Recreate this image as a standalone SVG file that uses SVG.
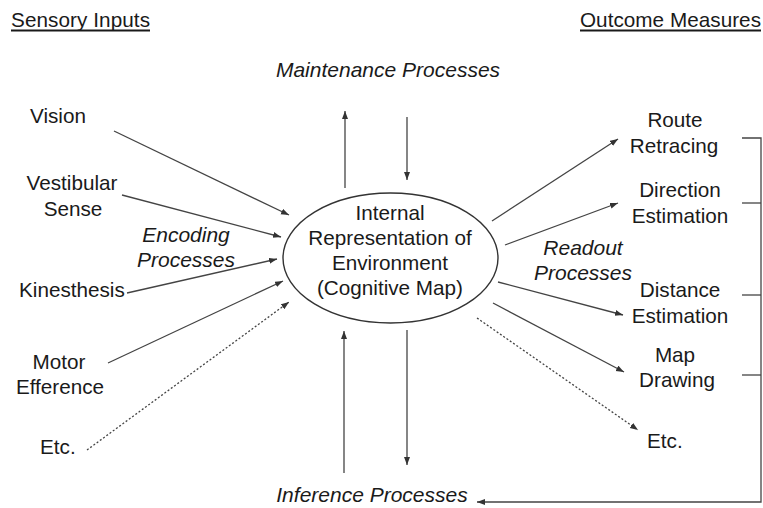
<svg xmlns="http://www.w3.org/2000/svg" width="763" height="508" viewBox="0 0 763 508">
<defs>
<marker id="ah" markerWidth="9" markerHeight="7" refX="8" refY="3" orient="auto" markerUnits="userSpaceOnUse">
<path d="M0,0 L8,3 L0,6 z" fill="#333"/>
</marker>
<style>
text{font-family:"Liberation Sans",Arial,sans-serif;font-size:20.7px;fill:#1a1a1a}
.c{text-anchor:middle}
.i{font-style:italic;font-size:21px}
.ln{stroke:#444;stroke-width:1.3;fill:none}
.ar{marker-end:url(#ah)}
.d{stroke-dasharray:2,2}
.ul{stroke:#1a1a1a;stroke-width:2}
</style>
</defs>
<rect width="763" height="508" fill="#fff"/>
<g id="titles">
<text x="11" y="27" textLength="139">Sensory Inputs</text>
<line class="ul" x1="11" y1="30.5" x2="150" y2="30.5"/>
<text x="580" y="27" textLength="181">Outcome Measures</text>
<line class="ul" x1="580" y1="30.5" x2="761" y2="30.5"/>
</g>
<g id="center">
<ellipse cx="390.5" cy="258" rx="107.5" ry="65" fill="none" stroke="#333" stroke-width="1.4"/>
<text class="c" x="390" y="220">Internal</text>
<text class="c" x="390" y="245">Representation of</text>
<text class="c" x="390" y="270">Environment</text>
<text class="c" x="390" y="295">(Cognitive Map)</text>
</g>
<g id="maintenance"><text class="c i" x="388" y="77">Maintenance Processes</text></g>
<g id="inference"><text class="c i" x="372" y="502">Inference Processes</text></g>
<g id="encoding"><text class="c i" x="186" y="242">Encoding</text><text class="c i" x="186" y="267">Processes</text></g>
<g id="readout"><text class="c i" x="583" y="255">Readout</text><text class="c i" x="583" y="280">Processes</text></g>
<g id="vision"><text x="30" y="123">Vision</text></g>
<g id="vestibular"><text class="c" x="72" y="190">Vestibular</text><text class="c" x="73" y="216">Sense</text></g>
<g id="kinesthesis"><text x="19" y="297">Kinesthesis</text></g>
<g id="motor"><text class="c" x="59" y="369">Motor</text><text class="c" x="60" y="394">Efference</text></g>
<g id="etc-left"><text x="40" y="454">Etc.</text></g>
<g id="route"><text class="c" x="675" y="127">Route</text><text class="c" x="674" y="153">Retracing</text></g>
<g id="direction"><text class="c" x="680" y="197">Direction</text><text class="c" x="680" y="223">Estimation</text></g>
<g id="distance"><text class="c" x="680" y="297">Distance</text><text class="c" x="680" y="323">Estimation</text></g>
<g id="map"><text class="c" x="675" y="362">Map</text><text class="c" x="677" y="387">Drawing</text></g>
<g id="etc-right"><text x="647" y="448">Etc.</text></g>
<g id="connectors">
<line class="ln ar" x1="114" y1="131" x2="289" y2="215"/>
<line class="ln ar" x1="122" y1="195" x2="281" y2="237"/>
<line class="ln ar" x1="127" y1="293" x2="277" y2="259"/>
<line class="ln ar" x1="108" y1="363" x2="283" y2="281"/>
<line class="ln ar d" x1="87" y1="450" x2="289" y2="302"/>
<line class="ln ar" x1="345" y1="188" x2="345" y2="111"/>
<line class="ln ar" x1="407" y1="117" x2="407" y2="180"/>
<line class="ln ar" x1="344" y1="473" x2="344" y2="331"/>
<line class="ln ar" x1="407" y1="330" x2="407" y2="465"/>
<line class="ln ar" x1="492" y1="221" x2="618" y2="139"/>
<line class="ln ar" x1="505" y1="245" x2="618" y2="203"/>
<line class="ln ar" x1="498" y1="282" x2="623" y2="315"/>
<line class="ln ar" x1="493" y1="303" x2="624" y2="372"/>
<line class="ln ar d" x1="477" y1="318" x2="638" y2="430"/>
<path class="ln ar" d="M742,138 H761 V502 H477"/>
<line class="ln" x1="742" y1="203" x2="761" y2="203"/>
<line class="ln" x1="742" y1="295" x2="761" y2="295"/>
<line class="ln" x1="742" y1="375" x2="761" y2="375"/>
</g>
</svg>
